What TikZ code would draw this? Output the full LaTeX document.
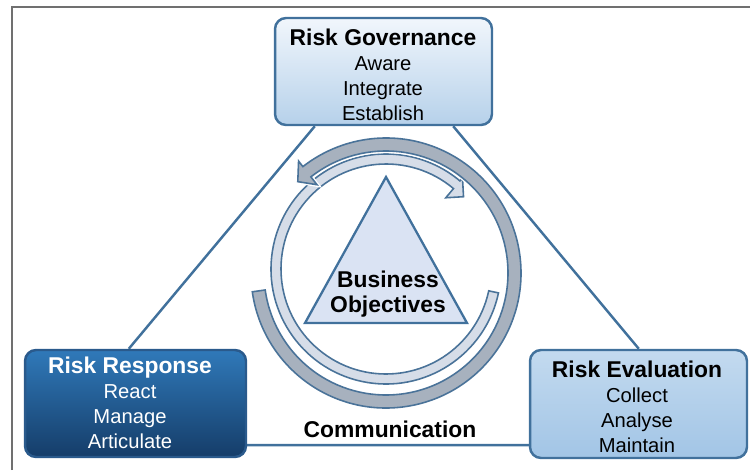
\documentclass[tikz,border=0pt]{standalone}
\usepackage{fontspec}
\setmainfont{Liberation Sans}
\usetikzlibrary{calc,backgrounds}
\definecolor{edgeblue}{HTML}{41719C}
\definecolor{ringedge}{HTML}{4A7399}
\definecolor{lightring}{HTML}{D6DDE8}
\definecolor{grayring}{HTML}{A7B1BE}
\definecolor{trifill}{HTML}{DAE3F3}
\definecolor{framegray}{HTML}{707070}
\definecolor{govtop}{HTML}{F1F6FC}
\definecolor{govbot}{HTML}{B6D1EA}
\definecolor{evtop}{HTML}{C3DAEF}
\definecolor{evbot}{HTML}{A2C5E6}
\definecolor{rstop}{HTML}{3079B9}
\definecolor{rsmid}{HTML}{2663A1}
\definecolor{rsbot}{HTML}{153D69}
\definecolor{rsedge}{HTML}{2A5A8C}
\begin{document}
\begin{tikzpicture}[x=0.02cm,y=-0.02cm,
  conn/.style={draw=edgeblue, line width=1.4pt},
  riskbox/.style={draw=edgeblue, line width=1.4pt, rounded corners=0.22cm,
     minimum width=#1, minimum height=2.14cm, inner sep=0pt},
  boxtext/.style={align=center, inner sep=0pt,
     font=\fontsize{11.5}{14.2}\selectfont},
  ringshape/.style={draw=ringedge, line width=0.9pt}
]
\useasboundingbox (0,0) rectangle (750,470);
% frame
\draw[framegray, line width=1.2pt] (12,470) -- (12,7) -- (750,7);

% boxes
\node[riskbox=4.34cm, top color=govtop, bottom color=govbot] (gov) at (383.5,71.5) {};
\node[riskbox=4.42cm, draw=rsedge, top color=rstop, middle color=rsmid, bottom color=rsbot] (resp) at (135.5,403.5) {};
\node[riskbox=4.34cm, top color=evtop, bottom color=evbot, minimum height=2.16cm] (eval) at (638.5,404) {};

% connectors (behind the boxes)
\begin{scope}[on background layer]
\draw[conn] ($(gov.south west)+(41,0)$) -- ($(resp.north west)+(105,0)$);
\draw[conn] ($(gov.south east)+(-40,0)$) -- ($(eval.north west)+(110,0)$);
\draw[conn] ($(resp.south east)+(0,-13)$) -- ($(eval.south west)+(0,-14)$);
\end{scope}

% inner light arrow (clockwise)
\begin{scope}[shift={(386,269)}, yscale=-1]
\path[ringshape, fill=lightring]
  (-12:105) -- (-12:115) arc[start angle=-12, end angle=-310, radius=115]
  -- (50:119) -- (43:106) -- (50:93) -- (50:105)
  arc[start angle=-310, end angle=-12, radius=105] -- cycle;
\end{scope}
% outer gray arrow (counter-clockwise)
\begin{scope}[shift={(386,273)}, yscale=-1]
\path[ringshape, fill=grayring, preaction={draw=white, line width=2.4pt}]
  (188:122) -- (188:135) arc[start angle=188, end angle=488, radius=135]
  -- (128:142) -- (134:127) -- (128:112) -- (128:122)
  arc[start angle=488, end angle=188, radius=122] -- cycle;
\end{scope}

% triangle
\path[draw=edgeblue, line width=1.3pt, fill=trifill, line join=miter]
  (386,177) -- (467,323) -- (305,323) -- cycle;
\node[align=center, inner sep=0pt, font=\fontsize{13}{14.2}\selectfont\bfseries] (bo) at (388,294) {Business\\Objectives};

% texts
\node[boxtext] (govtext) at (383,74.5) {{\fontsize{13}{14.2}\selectfont\bfseries Risk Governance}\\Aware\\Integrate\\Establish};
\node[boxtext, text=white] (resptext) at (130,402.5) {{\fontsize{13}{14.2}\selectfont\bfseries Risk Response}\\React\\Manage\\Articulate};
\node[boxtext] (evaltext) at (637,407) {{\fontsize{13}{14.2}\selectfont\bfseries Risk Evaluation}\\Collect\\Analyse\\Maintain};
\node[inner sep=0pt, font=\fontsize{13}{14.2}\selectfont\bfseries] (comm) at (390,429) {Communication};
\end{tikzpicture}
\end{document}
